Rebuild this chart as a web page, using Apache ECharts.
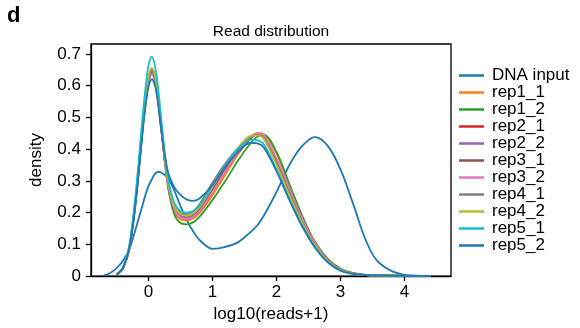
<!DOCTYPE html>
<html>
<head>
<meta charset="utf-8">
<script src="https://cdn.jsdelivr.net/npm/echarts@6/dist/echarts.min.js"></script>
<style>html,body{margin:0;padding:0;background:#fff}#c{width:580px;height:328px}</style>
</head>
<body>
<div id="c"></div>
<script>
// ---- data ----
const xs = [-0.7,-0.6,-0.5,-0.4,-0.3,-0.2,-0.1,-0.05,0,0.05,0.1,0.15,0.2,0.3,0.4,0.5,0.6,0.7,0.8,1.0,1.2,1.4,1.6,1.7,1.8,2.0,2.2,2.4,2.6,2.8,3.0,3.2,3.4,3.6,4.0,4.4];

const dnaInput = [0.002,0.01,0.025,0.048,0.085,0.15,0.22,0.255,0.285,0.305,0.322,0.328,0.326,0.31,0.27,0.22,0.175,0.14,0.113,0.086,0.092,0.107,0.14,0.16,0.19,0.265,0.35,0.41,0.438,0.41,0.335,0.225,0.11,0.042,0.004,0.0005];
const rep1_1 = [null,null,0.004,0.024,0.088,0.24,0.455,0.555,0.625,0.655,0.63,0.56,0.465,0.29,0.205,0.178,0.175,0.182,0.2,0.255,0.32,0.385,0.435,0.45,0.447,0.385,0.285,0.185,0.105,0.052,0.022,0.009,0.004,0.002,0.001,0.0005];
const rep1_2 = [null,null,0.004,0.024,0.087,0.238,0.45,0.55,0.62,0.65,0.625,0.555,0.46,0.285,0.195,0.167,0.163,0.17,0.188,0.24,0.3,0.365,0.42,0.44,0.445,0.39,0.29,0.19,0.108,0.054,0.023,0.009,0.004,0.002,0.001,0.0005];
const rep2_1 = [null,null,0.005,0.026,0.092,0.245,0.455,0.55,0.615,0.64,0.615,0.55,0.46,0.295,0.213,0.185,0.18,0.186,0.205,0.265,0.33,0.39,0.435,0.446,0.44,0.365,0.27,0.178,0.104,0.05,0.02,0.008,0.003,0.002,0.001,0.0005];
const rep2_2 = [null,null,0.005,0.026,0.092,0.246,0.458,0.553,0.62,0.645,0.62,0.553,0.462,0.298,0.218,0.19,0.185,0.19,0.21,0.27,0.335,0.395,0.438,0.446,0.438,0.36,0.265,0.174,0.101,0.048,0.019,0.008,0.003,0.002,0.001,0.0005];
const rep3_1 = [null,null,0.005,0.026,0.092,0.245,0.455,0.55,0.615,0.64,0.617,0.553,0.463,0.3,0.222,0.195,0.19,0.195,0.213,0.272,0.337,0.395,0.438,0.446,0.437,0.36,0.264,0.172,0.1,0.048,0.019,0.008,0.003,0.002,0.001,0.0005];
const rep3_2 = [null,null,0.005,0.025,0.09,0.242,0.45,0.545,0.61,0.635,0.612,0.548,0.46,0.295,0.212,0.184,0.18,0.186,0.205,0.265,0.33,0.392,0.44,0.45,0.444,0.37,0.275,0.18,0.105,0.05,0.02,0.008,0.003,0.002,0.001,0.0005];
const rep4_1 = [null,null,0.005,0.026,0.092,0.246,0.458,0.553,0.62,0.645,0.62,0.555,0.465,0.302,0.225,0.198,0.195,0.205,0.228,0.295,0.355,0.405,0.44,0.445,0.435,0.355,0.26,0.17,0.098,0.047,0.019,0.008,0.003,0.002,0.001,0.0005];
const rep4_2 = [null,null,0.005,0.027,0.094,0.25,0.465,0.562,0.63,0.655,0.63,0.562,0.47,0.302,0.222,0.195,0.19,0.197,0.218,0.282,0.348,0.405,0.442,0.443,0.432,0.35,0.255,0.167,0.096,0.046,0.018,0.007,0.003,0.002,0.001,0.0005];
const rep5_1 = [null,null,0.005,0.028,0.1,0.265,0.49,0.59,0.665,0.69,0.662,0.59,0.49,0.315,0.232,0.205,0.2,0.205,0.223,0.285,0.35,0.402,0.43,0.428,0.415,0.335,0.242,0.158,0.09,0.043,0.017,0.007,0.003,0.002,0.001,0.0005];
const rep5_2 = [null,null,0.005,0.025,0.088,0.235,0.44,0.532,0.597,0.62,0.6,0.54,0.458,0.33,0.28,0.255,0.241,0.237,0.245,0.287,0.345,0.392,0.42,0.418,0.405,0.33,0.24,0.157,0.09,0.043,0.017,0.007,0.003,0.002,0.001,0.0005];

const seriesNames = ['DNA input','rep1_1','rep1_2','rep2_1','rep2_2','rep3_1','rep3_2','rep4_1','rep4_2','rep5_1','rep5_2'];
const seriesValues = [dnaInput,rep1_1,rep1_2,rep2_1,rep2_2,rep3_1,rep3_2,rep4_1,rep4_2,rep5_1,rep5_2];
const colors = ['#1f77b4','#ff7f0e','#2ca02c','#d62728','#9467bd','#8c564b','#e377c2','#7f7f7f','#bcbd22','#17becf','#1f77b4'];
const xTicks = [0,1,2,3,4];
const yTicks = [0,0.1,0.2,0.3,0.4,0.5,0.6,0.7];

const FONT = '"Liberation Sans", Arial, Helvetica, sans-serif';

const chart = echarts.init(document.getElementById('c'), null, {renderer:'canvas'});
chart.setOption({
  animation: false,
  backgroundColor: '#fff',
  color: colors,
  textStyle: {fontFamily: FONT, color: '#000'},
  title: {
    text: 'Read distribution',
    left: 271, top: 24, textAlign: 'center', padding: 0,
    textStyle: {fontFamily: FONT, fontSize: 15.5, fontWeight: 'normal', color: '#000'}
  },
  graphic: [{
    type: 'text', left: 7, top: 5,
    style: {text: 'd', font: 'bold 22px ' + FONT, fill: '#000'}
  }],
  legend: {
    orient: 'vertical', left: 459, top: 67, padding: 0,
    itemGap: 0, itemWidth: 25, itemHeight: 2.5, icon: 'rect',
    selectedMode: false,
    textStyle: {fontFamily: FONT, fontSize: 17, color: '#000', lineHeight: 16.8, padding: [0,0,0,3]},
    data: seriesNames
  },
  grid: {left: 91, top: 44, width: 360, height: 236, show: true, borderColor: '#000', borderWidth: 1.3, containLabel: false},
  xAxis: {
    type: 'value', min: -0.9, max: 4.725,
    name: 'log10(reads+1)', nameLocation: 'middle', nameGap: 25,
    nameTextStyle: {fontFamily: FONT, fontSize: 17, color: '#000'},
    axisLine: {show: true, onZero: false, lineStyle: {color: '#000', width: 1.3}},
    axisTick: {show: true, length: 5, lineStyle: {color: '#000', width: 1.3}, customValues: xTicks},
    axisLabel: {fontFamily: FONT, fontSize: 17, color: '#000', margin: 8, customValues: xTicks},
    splitLine: {show: false}
  },
  yAxis: {
    type: 'value', min: 0, max: 0.731,
    name: 'density', nameLocation: 'middle', nameGap: 46,
    nameTextStyle: {fontFamily: FONT, fontSize: 17, color: '#000'},
    axisLine: {show: true, onZero: false, lineStyle: {color: '#000', width: 1.3}},
    axisTick: {show: true, length: 5, lineStyle: {color: '#000', width: 1.3}, customValues: yTicks},
    axisLabel: {fontFamily: FONT, fontSize: 17, color: '#000', margin: 10, customValues: yTicks,
      formatter: v => (Math.round(v*10)/10).toString()},
    splitLine: {show: false}
  },
  series: seriesNames.map((n, k) => ({
    name: n, type: 'line', smooth: 0.35, symbol: 'none',
    lineStyle: {width: 1.8, color: colors[k]},
    itemStyle: {color: colors[k]},
    data: xs.map((x, i) => [x, seriesValues[k][i]]).filter(p => p[1] !== null)
  }))
});
</script>
</body>
</html>
